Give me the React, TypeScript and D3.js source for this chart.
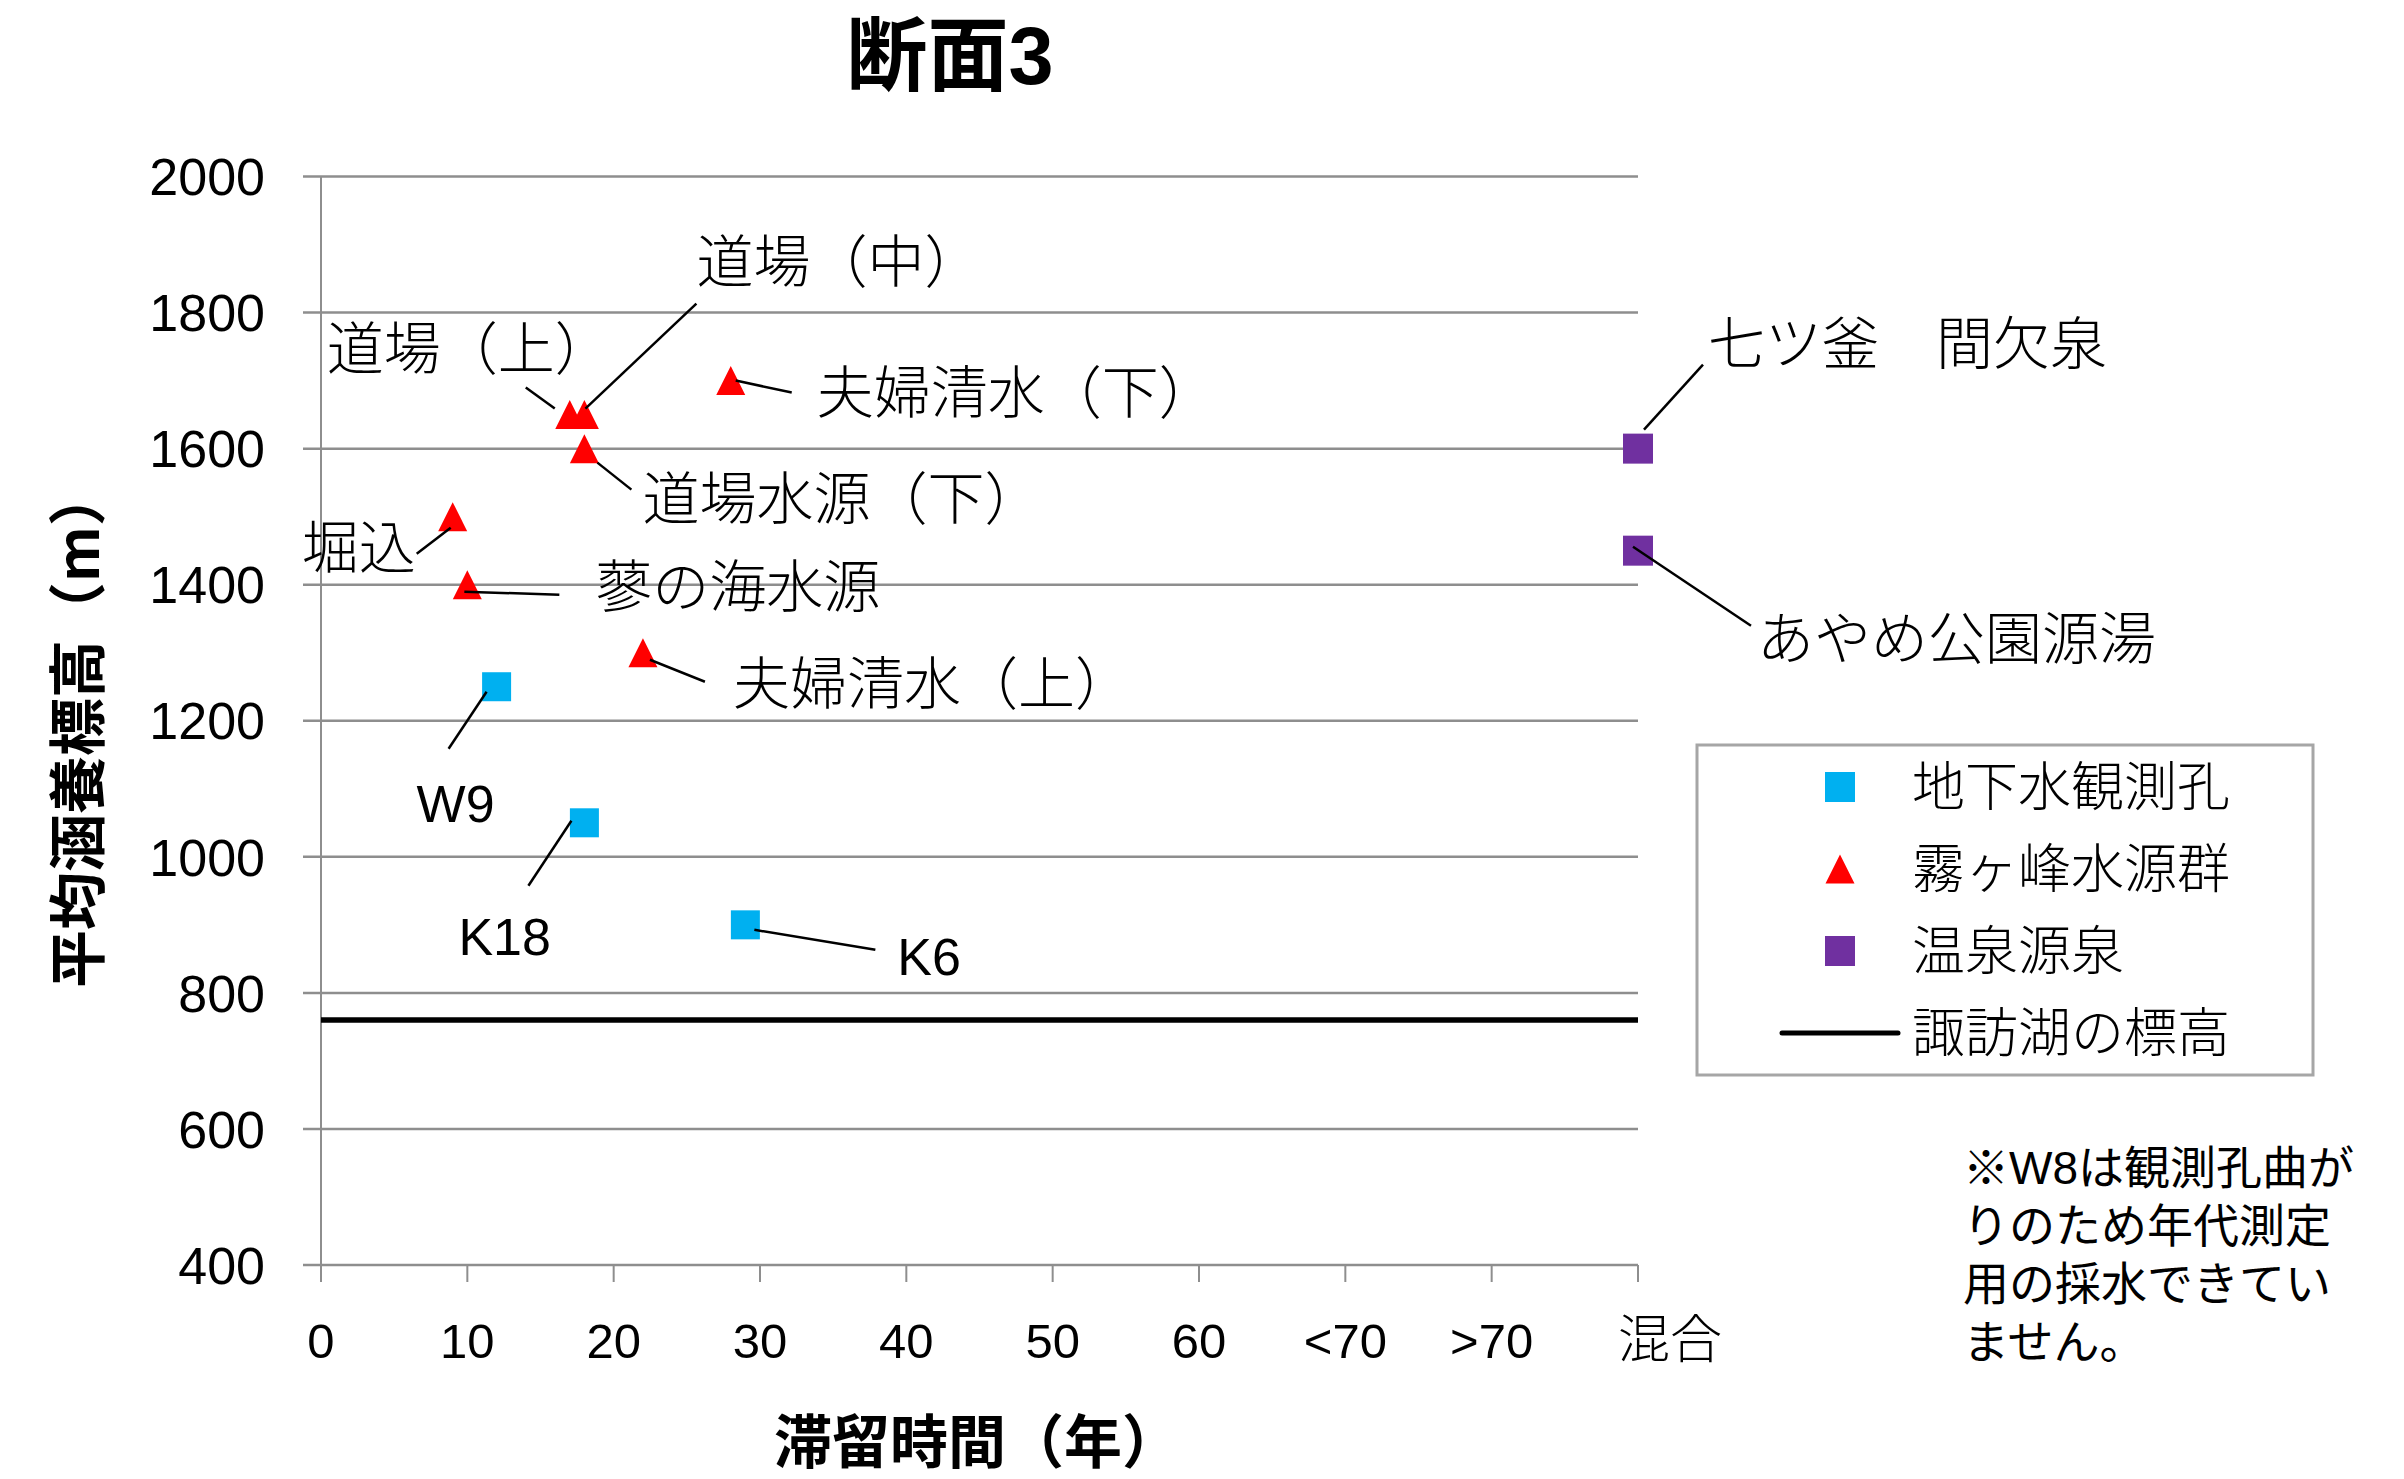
import React from "react";
import * as d3 from "d3";

// ---------- data ----------
const xTickValues = [0, 10, 20, 30, 40, 50, 60, 70, 80, 90];
const xTickLabels = ["0", "10", "20", "30", "40", "50", "60", "<70", ">70", "混合"];
const yTickValues = [400, 600, 800, 1000, 1200, 1400, 1600, 1800, 2000];

const wellNames = ["W9", "K18", "K6"];
const wellAge = [12, 18, 29];
const wellElev = [1250, 1050, 900];

const springNames = ["道場（上）", "道場（中）", "道場水源（下）", "夫婦清水（下）", "堀込", "蓼の海水源", "夫婦清水（上）"];
const springAge = [17, 18, 18, 28, 9, 10, 22];
const springElev = [1650, 1650, 1600, 1700, 1500, 1400, 1300];

const hotNames = ["七ツ釜　間欠泉", "あやめ公園源湯"];
const hotAge = [90, 90];
const hotElev = [1600, 1450];

const lakeAge = [0, 90];
const lakeElev = [760, 760];

const legendLabels = ["地下水観測孔", "霧ヶ峰水源群", "温泉源泉", "諏訪湖の標高"];
const noteLines = ["※W8は観測孔曲が", "りのため年代測定", "用の採水できてい", "ません。"];

const title = "断面3";
const xTitle = "滞留時間（年）";
const yTitle = "平均涵養標高（m）";

// ---------- layout (pixel offsets for labels relative to their marker) ----------
const labelLayout: Record<string, { tx: number; ty: number; l: [number, number, number, number] }> = {
  "W9": { tx: -80, ty: 117, l: [-10, 5, -48, 62] },
  "K18": { tx: -126, ty: 113, l: [-13, -2, -56, 63] },
  "K6": { tx: 152, ty: 31, l: [9, 5, 130, 25] },
  "道場（上）": { tx: -243, ty: -66, l: [-44, -27, -15, -6] },
  "道場（中）": { tx: 112, ty: -153, l: [1, -6, 112, -111] },
  "道場水源（下）": { tx: 58, ty: 50, l: [13, 14, 47, 41] },
  "夫婦清水（下）": { tx: 86, ty: 12, l: [5, 0, 61, 12] },
  "堀込": { tx: -151, ty: 31, l: [-2, 11, -36, 37] },
  "蓼の海水源": { tx: 128, ty: 2, l: [-3, 7, 92, 10] },
  "夫婦清水（上）": { tx: 90, ty: 31, l: [7, 7, 62, 29] },
  "七ツ釜　間欠泉": { tx: 70, ty: -105, l: [6, -19, 65, -84] },
  "あやめ公園源湯": { tx: 119, ty: 88, l: [-5, -4, 113, 75] },
};

const W = 2404;
const H = 1479;
const plot = { left: 321, right: 1638, top: 176.5, bottom: 1265 };

const BLUE = "#00B0F0";
const RED = "#FF0000";
const PURPLE = "#7030A0";
const GRID = "#8e8e8e";

const FONT = "'Liberation Sans', 'Noto Sans CJK JP', sans-serif";
const JFONT = "'Noto Sans CJK JP', 'Liberation Sans', sans-serif";

const MS = 29; // marker size

function tri(cx: number, cy: number, s: number) {
  return `M${cx},${cy - s / 2}L${cx + s / 2},${cy + s / 2}L${cx - s / 2},${cy + s / 2}Z`;
}

const isLatin = (s: string) => /^[A-Za-z0-9]+$/.test(s);

export default function App() {
  const x = d3.scaleLinear().domain([0, 90]).range([plot.left, plot.right]);
  const y = d3.scaleLinear().domain([400, 2000]).range([plot.bottom, plot.top]);

  const wells = wellNames.map((n, i) => ({ n, px: x(wellAge[i]), py: y(wellElev[i]) }));
  const springs = springNames.map((n, i) => ({ n, px: x(springAge[i]), py: y(springElev[i]) }));
  const hots = hotNames.map((n, i) => ({ n, px: x(hotAge[i]), py: y(hotElev[i]) }));
  const lakeLine = d3.line<number>().x((d, i) => x(lakeAge[i])).y((d) => y(d))(lakeElev) || "";

  const allLabeled = [...wells, ...springs, ...hots];

  const legendX = 1697, legendY = 745, legendW = 616, legendH = 330;
  const legendRows = [787, 869, 951, 1033];
  const legendMarkerX = 1840;
  const legendTextX = 1912;

  return (
    <svg width={W} height={H} style={{ position: "absolute", left: 0, top: 0, background: "#fff" }}>
      <rect x={0} y={0} width={W} height={H} fill="#fff" />
      {/* title */}
      <text x={950} y={84} textAnchor="middle" fontFamily={FONT} fontWeight={700} fontSize={81} fill="#000">
        {title}
      </text>

      {/* gridlines + y ticks */}
      {yTickValues.map((v) => (
        <g key={v}>
          <line x1={plot.left - 18} x2={plot.right} y1={y(v)} y2={y(v)} stroke={GRID} strokeWidth={2.5} />
          <text x={265} y={y(v)} dy="0.36em" textAnchor="end" fontFamily={FONT} fontSize={52} fill="#000">
            {v}
          </text>
        </g>
      ))}
      {/* y axis line */}
      <line x1={plot.left} x2={plot.left} y1={plot.top} y2={plot.bottom} stroke={GRID} strokeWidth={2} />

      {/* x ticks */}
      {xTickValues.map((v, i) => (
        <g key={v}>
          <line x1={x(v)} x2={x(v)} y1={plot.bottom} y2={plot.bottom + 17} stroke={GRID} strokeWidth={2} />
          <text
            x={x(v) + (i === xTickValues.length - 1 ? 32 : 0)}
            y={1358}
            textAnchor="middle"
            fontFamily={i === xTickValues.length - 1 ? JFONT : FONT}
            fontWeight={i === xTickValues.length - 1 ? 300 : 400}
            fontSize={i === xTickValues.length - 1 ? 52 : 49}
            fill="#000"
          >
            {xTickLabels[i]}
          </text>
        </g>
      ))}

      {/* axis titles */}
      <text x={977} y={1463} textAnchor="middle" fontFamily={JFONT} fontWeight={700} fontSize={58} fill="#000">
        {xTitle}
      </text>
      <text
        transform={`translate(99,728) rotate(-90)`}
        textAnchor="middle"
        fontFamily={JFONT}
        fontWeight={700}
        fontSize={58}
        fill="#000"
      >
        {yTitle}
      </text>

      {/* lake line */}
      <path d={lakeLine} stroke="#000" strokeWidth={5.5} fill="none" />

      {/* markers */}
      {wells.map((p) => (
        <rect key={"w" + p.n} x={p.px - MS / 2} y={p.py - MS / 2} width={MS} height={MS} fill={BLUE} />
      ))}
      {springs.map((p) => (
        <path key={"s" + p.n} d={tri(p.px, p.py, MS)} fill={RED} />
      ))}
      {hots.map((p) => (
        <rect key={"h" + p.n} x={p.px - 15} y={p.py - 15} width={30} height={30} fill={PURPLE} />
      ))}

      {/* leader lines */}
      {allLabeled.map((p) => {
        const L = labelLayout[p.n];
        return (
          <line
            key={"lo" + p.n}
            x1={p.px + L.l[0]}
            y1={p.py + L.l[1]}
            x2={p.px + L.l[2]}
            y2={p.py + L.l[3]}
            stroke="#000"
            strokeWidth={2.5}
          />
        );
      })}

      {/* data labels */}
      {allLabeled.map((p) => {
        const L = labelLayout[p.n];
        const latin = isLatin(p.n);
        return (
          <text
            key={"t" + p.n}
            x={p.px + L.tx}
            y={p.py + L.ty}
            dy="0.36em"
            fontFamily={latin ? FONT : JFONT}
            fontWeight={latin ? 400 : 300}
            fontSize={latin ? 52 : 57}
            fill="#000"
          >
            {p.n}
          </text>
        );
      })}

      {/* legend */}
      <rect x={legendX} y={legendY} width={legendW} height={legendH} fill="#fff" stroke="#a6a6a6" strokeWidth={3} />
      <rect x={legendMarkerX - 15} y={legendRows[0] - 15} width={30} height={30} fill={BLUE} />
      <path d={tri(legendMarkerX, legendRows[1], MS)} fill={RED} />
      <rect x={legendMarkerX - 15} y={legendRows[2] - 15} width={30} height={30} fill={PURPLE} />
      <line x1={1782} x2={1898} y1={legendRows[3]} y2={legendRows[3]} stroke="#000" strokeWidth={5} strokeLinecap="round" />
      {legendLabels.map((t, i) => (
        <text key={t} x={legendTextX} y={legendRows[i]} dy="0.36em" fontFamily={JFONT} fontWeight={300} fontSize={53} fill="#000">
          {t}
        </text>
      ))}

      {/* note */}
      {noteLines.map((t, i) => (
        <text key={i} x={1963} y={1167 + i * 58} dy="0.36em" fontFamily={FONT} fontWeight={400} fontSize={46} fill="#000">
          {t}
        </text>
      ))}
    </svg>
  );
}
